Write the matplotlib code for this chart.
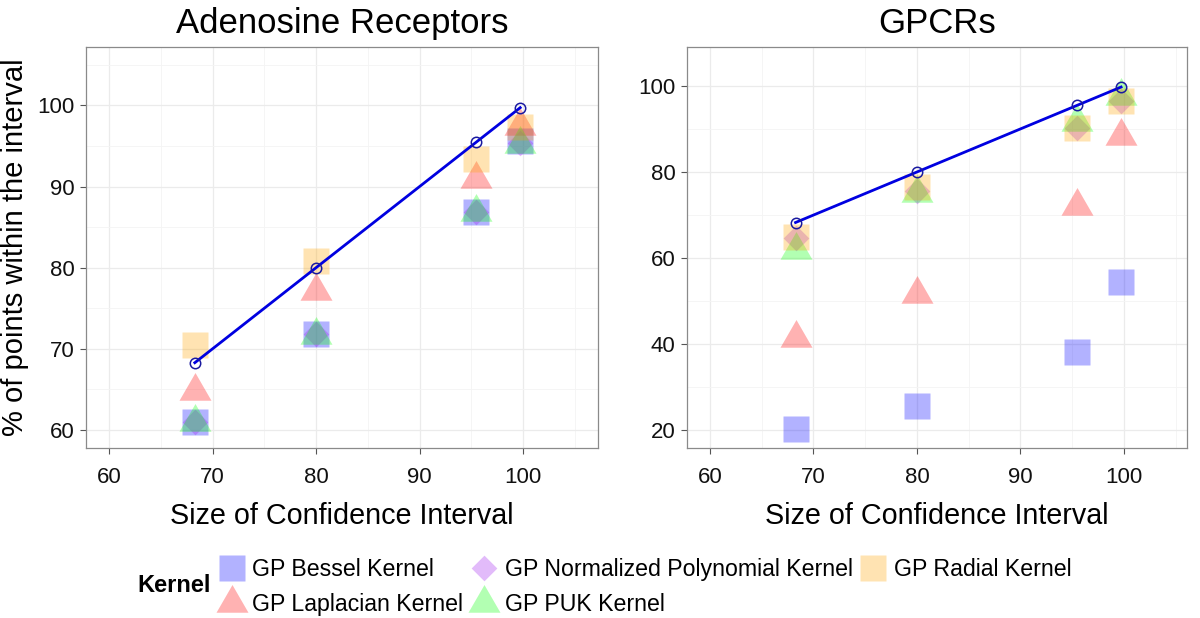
import matplotlib
matplotlib.use("Agg")
import matplotlib.pyplot as plt
from matplotlib.path import Path
from matplotlib.lines import Line2D
import numpy as np

plt.rcParams['font.family'] = ['Liberation Sans', 'DejaVu Sans']

ci = [68.27, 80, 95.45, 99.73]
kernels = ["GP Bessel Kernel", "GP Laplacian Kernel", "GP Normalized Polynomial Kernel",
           "GP PUK Kernel", "GP Radial Kernel"]

aden_bessel = [61.0, 71.8, 86.9, 95.6]
aden_laplace = [64.8, 77.1, 90.9, 97.5]
aden_normpoly = [61.0, 71.8, 86.9, 95.4]
aden_puk = [60.9, 71.7, 86.9, 95.3]
aden_radial = [70.5, 80.8, 93.4, 97.4]

gpcr_bessel = [20.3, 25.6, 38.3, 54.4]
gpcr_laplace = [41.5, 51.6, 72.2, 88.3]
gpcr_normpoly = [64.7, 75.5, 90.3, 96.5]
gpcr_puk = [61.8, 75.2, 91.7, 97.7]
gpcr_radial = [64.9, 76.4, 90.3, 96.5]

x_ticks = [60, 70, 80, 90, 100]
aden_yticks = [60, 70, 80, 90, 100]
gpcr_yticks = [20, 40, 60, 80, 100]

tri = Path([(0, 1), (-0.866, -0.5), (0.866, -0.5), (0, 1)],
           [Path.MOVETO, Path.LINETO, Path.LINETO, Path.CLOSEPOLY])
dia = Path([(0, 1), (1, 0), (0, -1), (-1, 0), (0, 1)],
           [Path.MOVETO, Path.LINETO, Path.LINETO, Path.LINETO, Path.CLOSEPOLY])

styles = [
    dict(marker='s', color='#0000FF', ms=19.2),
    dict(marker=tri, color='#FF0000', ms=26.6),
    dict(marker=dia, color='#A020F0', ms=18.5),
    dict(marker=tri, color='#00FF00', ms=26.6),
    dict(marker='s', color='#FFA500', ms=19.2),
]
ALPHA = 0.3

W, H = 1200, 618
fig = plt.figure(figsize=(W / 100, H / 100), dpi=100)

def fx(px):
    return px / W

def fy(py):
    return 1 - py / H

top, bottom = 46.7, 448
ax1 = fig.add_axes([fx(86), fy(bottom), fx(598 - 86), (bottom - top) / H])
ax2 = fig.add_axes([fx(686.7), fy(bottom), fx(1187 - 686.7), (bottom - top) / H])

panels = [
    (ax1, "Adenosine Receptors",
     [aden_bessel, aden_laplace, aden_normpoly, aden_puk, aden_radial],
     aden_yticks, (57.75, 107.25), (57.75, 107.25)),
    (ax2, "GPCRs",
     [gpcr_bessel, gpcr_laplace, gpcr_normpoly, gpcr_puk, gpcr_radial],
     gpcr_yticks, (57.75, 106.1), (15.9, 109.1)),
]

for ax, title, series, yt, xl, yl in panels:
    for vals, st in zip(series, styles):
        ax.plot(ci, vals, linestyle='none', marker=st['marker'], markersize=st['ms'],
                markerfacecolor=st['color'], markeredgecolor='none', alpha=ALPHA, zorder=3)
    ax.plot(ci, ci, color='#0000E0', lw=2.0, zorder=5)
    ax.plot(ci, ci, linestyle='none', marker='o', markersize=7.5, markerfacecolor='none',
            markeredgecolor='#1A1AA0', markeredgewidth=1.1, zorder=6)
    ax.set_xticks(x_ticks)
    ax.set_yticks(yt)
    step_x = x_ticks[1] - x_ticks[0]
    step_y = yt[1] - yt[0]
    ax.set_xticks([v + step_x / 2 for v in x_ticks[:-1]] + [x_ticks[-1] + step_x / 2], minor=True)
    ax.set_yticks([v + step_y / 2 for v in yt[:-1]] + [yt[-1] + step_y / 2], minor=True)
    ax.set_xlim(*xl)
    ax.set_ylim(*yl)
    ax.grid(which='major', color='#EBEBEB', lw=0.9, zorder=0)
    ax.grid(which='minor', color='#F4F4F4', lw=0.6, zorder=0)
    ax.set_axisbelow(True)
    ax.tick_params(which='minor', length=0)
    ax.tick_params(which='major', length=4, width=0.8, color='#555555', labelsize=16,
                   labelcolor='#111111', pad=4)
    ax.tick_params(axis='x', which='major', pad=10)
    for sp in ax.spines.values():
        sp.set_color('#8A8A8A')
        sp.set_linewidth(0.9)
    ax.set_title(title, fontsize=25, pad=10, color='black')
    ax.set_xlabel("Size of Confidence Interval", fontsize=20.7, labelpad=10)

fig.text(fx(15), fy(247), "% of points within the interval", fontsize=21,
         rotation=90, ha='center', va='center')

handles = [Line2D([], [], linestyle='none', marker=st['marker'], markersize=st['ms'],
                  markerfacecolor=st['color'], markeredgecolor='none', alpha=ALPHA)
           for st in styles]
leg = fig.legend(handles, kernels, ncol=3, loc='center left',
                 bbox_to_anchor=(fx(218), fy(587)), frameon=False, fontsize=16.7,
                 handlelength=1.2, handletextpad=0.28, columnspacing=0.3,
                 labelspacing=0.5, borderpad=0, borderaxespad=0)
fig.text(fx(137), fy(585), "Kernel", fontsize=17, fontweight='bold', va='center', ha='left')

fig.savefig("out.png", dpi=100)
